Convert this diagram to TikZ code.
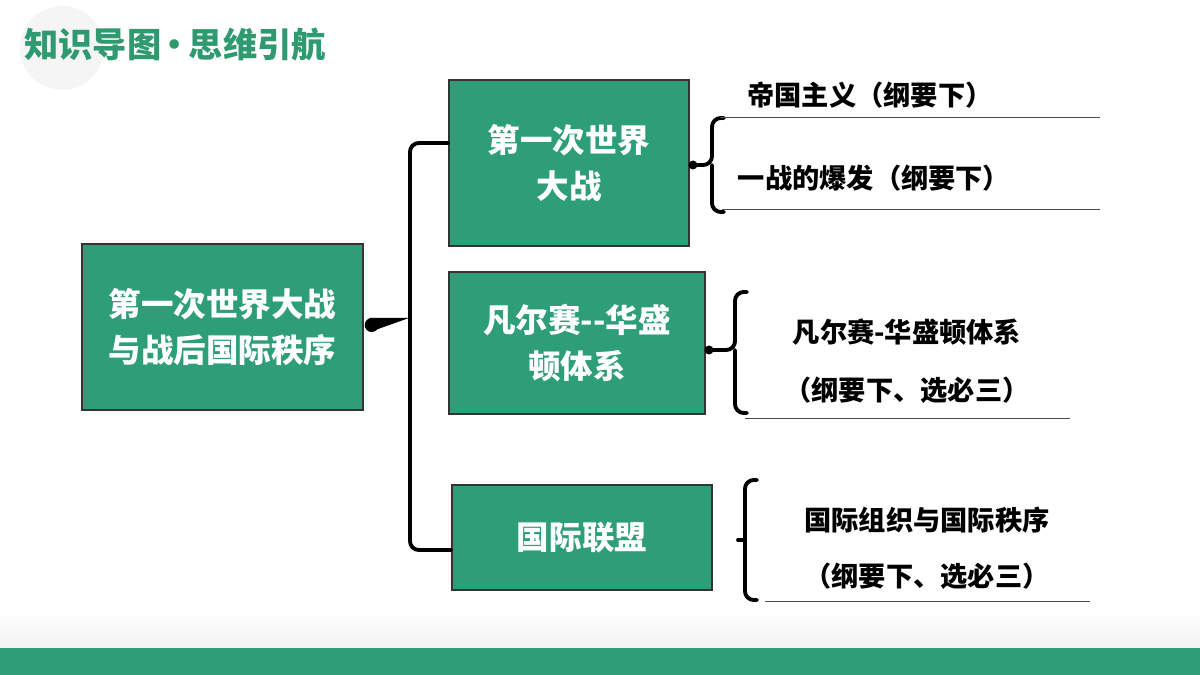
\documentclass[tikz,border=0pt]{standalone}
\usepackage{fontspec}
\setmainfont{Noto Sans CJK SC Black}
\usetikzlibrary{calc}
\definecolor{boxgreen}{HTML}{2E9E78}
\definecolor{titlegreen}{HTML}{2F9A6F}
\tikzset{
  box/.style={draw=black!80,line width=0.8pt,fill=boxgreen,text=white,align=center,
    font=\fontsize{18.5}{26}\selectfont,inner sep=0pt},
  item/.style={font=\fontsize{15.5}{18}\selectfont,anchor=center},
  uline/.style={draw=black!70,line width=0.5pt},
  brace/.style={line width=2.2pt,line cap=round,rounded corners=5pt},
}
% curly brace: x, top, bottom, middle, tip x
\newcommand{\curly}[5]{%
  \draw[brace] (#1+12,#2) -- (#1,#2) -- (#1,#4) -- (#5+6,#4);
  \draw[brace] (#1+12,#3) -- (#1,#3) -- (#1,#4);
  \fill (#5+4,#4) circle (4.5);
}
\begin{document}
\begin{tikzpicture}[x=0.02cm,y=-0.02cm]
\useasboundingbox (0,0) rectangle (1200,675);
% background
\fill[black!4] (0,0) rectangle (1200,675);
\fill[white] (0,0) rectangle (1200,612);
\shade[top color=white,bottom color=black!5] (0,612) rectangle (1200,648);
\fill[boxgreen] (0,648) rectangle (1200,675);
\fill[blue!10!black!4] (62,48) circle (42);
\node[anchor=west,text=titlegreen,font=\fontsize{19.5}{22}\selectfont,inner sep=0pt] (title) at (24,45) {知识导图\kern-0.1em·\kern-0.1em思维引航};

% boxes
\node[box,minimum width=281*0.02cm,minimum height=166*0.02cm] (main) at (222.5,327) {第一次世界大战\\与战后国际秩序};
\node[box,minimum width=240*0.02cm,minimum height=166*0.02cm] (ww) at (569,163) {第一次世界\\大战};
\node[box,minimum width=256*0.02cm,minimum height=142*0.02cm] (vw) at (577,343) {凡尔赛-{}-华盛\\顿体系};
\node[box,minimum width=260*0.02cm,minimum height=105*0.02cm] (lg) at (582,537.5) {国际联盟};

% main brace
\draw[brace] (ww.west |- 0,143) -- (410,143) -- (410,320);
\draw[brace] (lg.west |- 0,550) -- (410,550) -- (410,320);
\fill (main.east) ++(8,-2) circle (7);
\fill ($(main.east)+(6,-9)$) -- (409,318) -- ($(main.east)+(6,5)$) -- cycle;

% right braces
\curly{712}{118}{212}{165}{689}
\curly{735}{292}{413}{350}{705}
\draw[brace] (757,480) -- (745,480) -- (745,600) -- (757,600);
\draw[brace] (745,540) -- (738,540);

% texts
\node[item] (t1) at (870,95) {帝国主义（纲要下）};
\draw[uline] (720,117) -- (1100,117);
\node[item] (t2) at (874,178) {一战的爆发（纲要下）};
\draw[uline] (722,209) -- (1100,209);
\node[item] (t3) at (907,332) {凡尔赛-华盛顿体系};
\node[item] (t4) at (907,390) {（纲要下、选必三）};
\draw[uline] (745,418) -- (1070,418);
\node[item] (t5) at (927,520) {国际组织与国际秩序};
\node[item] (t6) at (927,576) {（纲要下、选必三）};
\draw[uline] (765,601) -- (1090,601);
\end{tikzpicture}
\end{document}
